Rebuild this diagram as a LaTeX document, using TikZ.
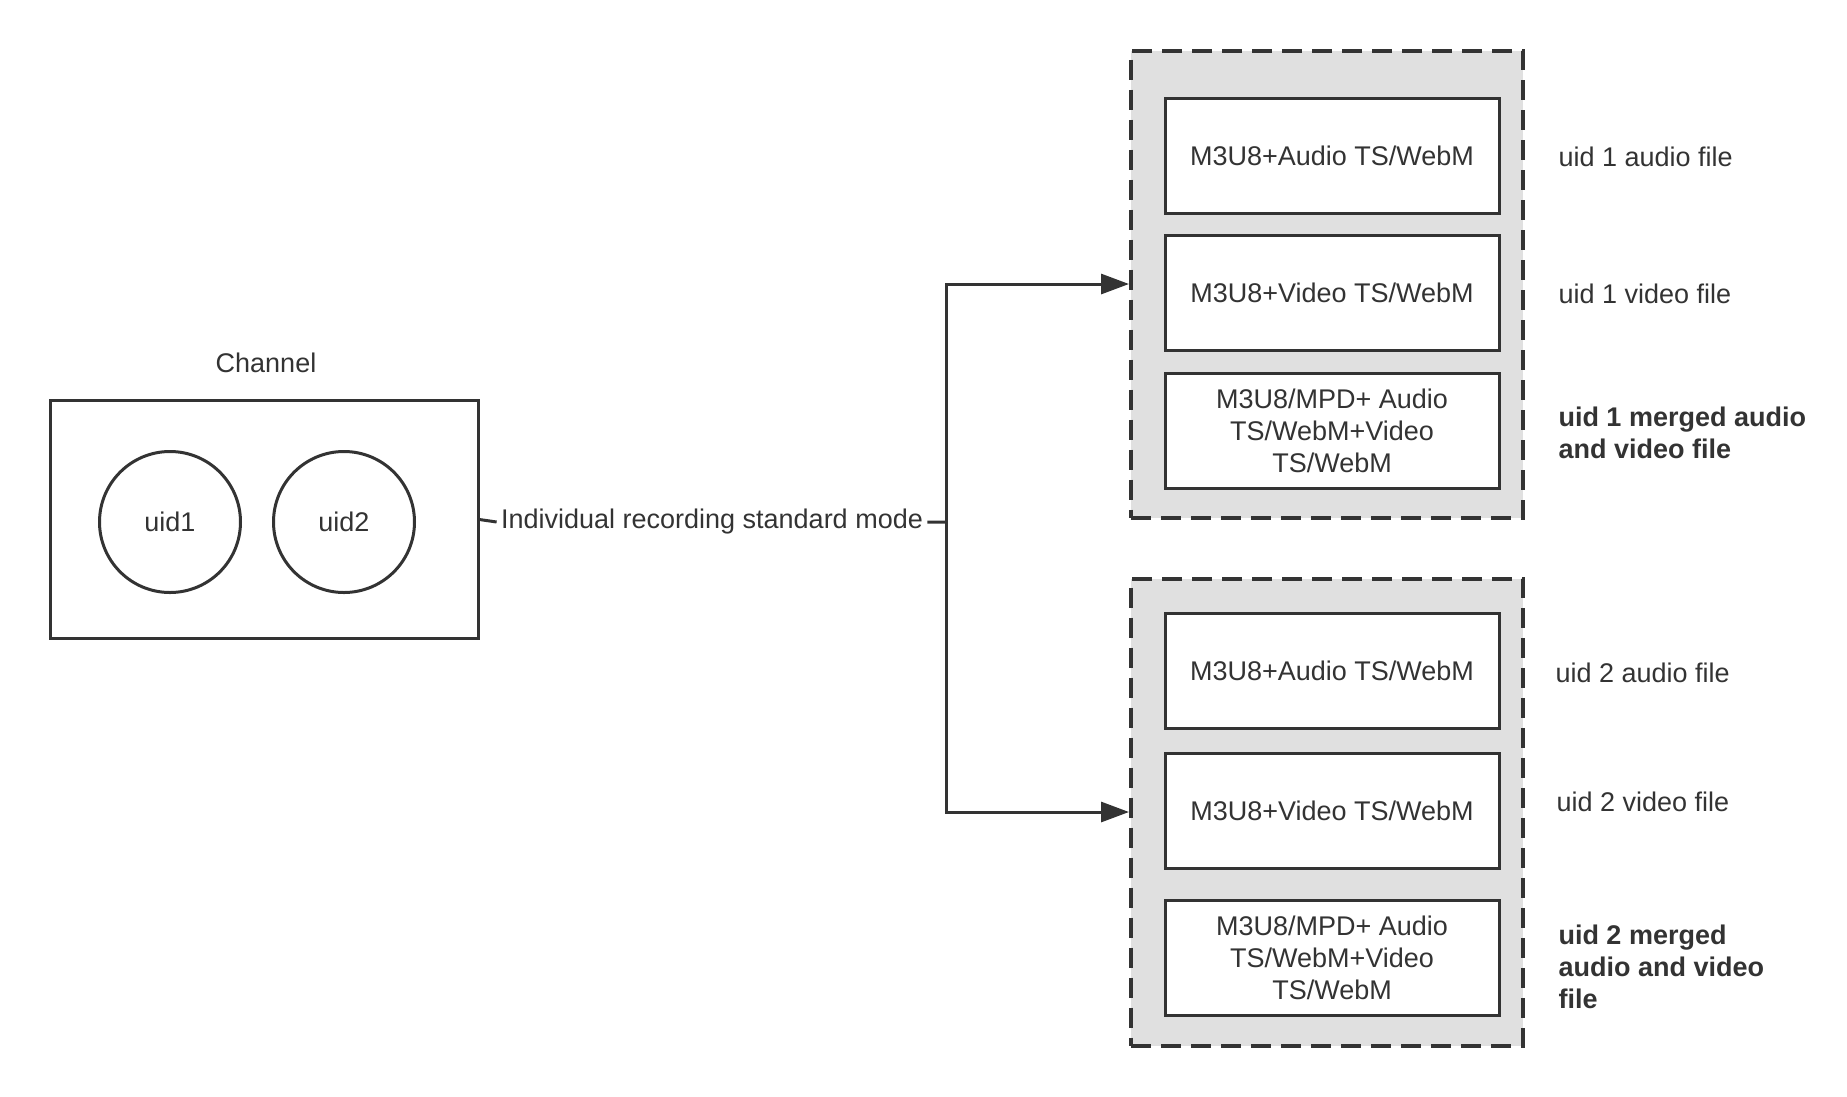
\documentclass[tikz,border=0pt]{standalone}
\usepackage{fontspec}
\setmainfont{Liberation Sans}
\usetikzlibrary{arrows.meta}
\definecolor{ink}{HTML}{333333}
\definecolor{shade}{HTML}{E0E0E0}
\begin{document}
\begin{tikzpicture}[x=1pt,y=-1pt,line width=3pt,color=ink,font=\fontsize{27}{32}\selectfont, line join=miter, >={Triangle[length=28pt,width=20pt]},
	filebox/.style={draw,fill=white,minimum width=334pt,minimum height=115pt,inner sep=0pt,align=center},
	groupbox/.style={draw,fill=shade,line width=4pt,dash pattern=on 20pt off 10pt,minimum width=392pt,minimum height=467pt,inner sep=0pt},
	uidbox/.style={draw,circle,minimum size=141pt,inner sep=0pt},
	note/.style={anchor=west,align=left,inner sep=0pt}]
				\useasboundingbox (0,0) rectangle (1847,1096);
				\node (chantitle) at (266,363) {Channel};
				\node[draw,minimum width=428pt,minimum height=238pt,inner sep=0pt] (chan) at (264,519.5) {};
				\node[uidbox] (uid1) at (170,522) {uid1};
				\node[uidbox] (uid2) at (344,522) {uid2};
				\node[inner sep=3pt] (mode) at (712,522) {Individual recording standard mode};
				\coordinate (split) at (946,522);
				% uid 1 files
				\node[groupbox] (grp1) at (1327,284) {};
				\node[filebox] (audio1) at (1332,156) {M3U8+Audio TS/WebM};
				\node[filebox] (video1) at (1332,293) {M3U8+Video TS/WebM};
				\node[filebox] (merged1) at (1332,431) {M3U8/MPD+ Audio\\TS/WebM+Video\\TS/WebM};
				\node[note] (audio1note) at (1557,157) {uid 1 audio file};
				\node[note] (video1note) at (1557,294) {uid 1 video file};
				\node[note,font=\fontsize{27}{32}\selectfont\bfseries] (merged1note) at (1557,433) {uid 1 merged audio\\and video file};
				% uid 2 files
				\node[groupbox] (grp2) at (1327,812) {};
				\node[filebox] (audio2) at (1332,671) {M3U8+Audio TS/WebM};
				\node[filebox] (video2) at (1332,811) {M3U8+Video TS/WebM};
				\node[filebox] (merged2) at (1332,958) {M3U8/MPD+ Audio\\TS/WebM+Video\\TS/WebM};
				\node[note] (audio2note) at (1554,673) {uid 2 audio file};
				\node[note] (video2note) at (1555,802) {uid 2 video file};
				\node[note,font=\fontsize{27}{32}\selectfont\bfseries] (merged2note) at (1557,967) {uid 2 merged\\audio and video\\file};
				\draw (chan.east)--(mode.west) (mode.east)--(split);
				\draw[->] (split) |- (grp1.west);
				\draw[->] (split) |- (grp2.west);
			\end{tikzpicture}
\end{document}
